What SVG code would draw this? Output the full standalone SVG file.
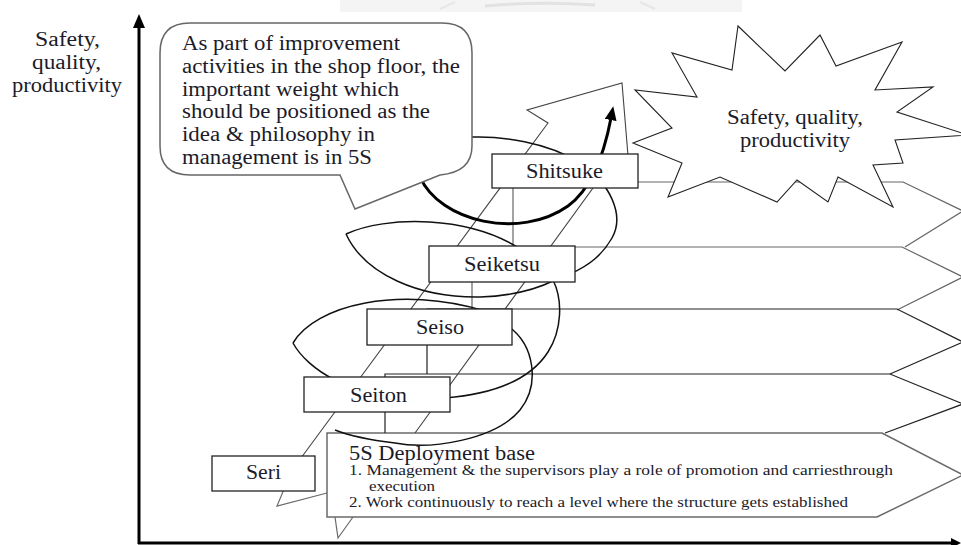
<svg xmlns="http://www.w3.org/2000/svg" width="961" height="545" viewBox="0 0 961 545" font-family="'Liberation Serif', 'Times New Roman', serif">
  <defs>
    <style>
      text { font-family: "Liberation Serif", "Times New Roman", serif; fill: #1b1b2a; }
      .t20 { font-size: 20px; }
      .t15 { font-size: 15px; }
      .box { fill: #ffffff; stroke: #222222; stroke-width: 1.3; }
      .band { fill: none; stroke: #666666; stroke-width: 1.2; }
      .band.dark { stroke: #222222; }
      .shaft { fill: none; stroke: #444444; stroke-width: 1.1; }
      .coil { fill: none; stroke: #111111; stroke-width: 1.5; }
      .axis { stroke: #000000; stroke-width: 3; fill: none; }
    </style>
    <marker id="head" viewBox="0 0 14 12" refX="2" refY="6" markerWidth="14" markerHeight="12" markerUnits="userSpaceOnUse" orient="auto">
      <path d="M0,0 L14,6 L0,12 Z" fill="#000000"/>
    </marker>
  </defs>

  <rect width="961" height="545" fill="#ffffff"/>

  <!-- faint stamp at the top edge -->
  <g id="stamp">
    <rect x="340" y="0" width="402" height="12" fill="#f4f4f4"/>
    <path d="M485,6 Q540,1 595,5" fill="none" stroke="#e2e2e2" stroke-width="3"/>
    <path d="M440,9 L455,2 M640,2 L655,9" fill="none" stroke="#e6e6e6" stroke-width="2"/>
  </g>

  <!-- axes -->
  <g id="axes">
    <line class="axis" x1="139" y1="544" x2="139" y2="26"/>
    <polygon points="139,14 133,28 145,28" fill="#000000"/>
    <line class="axis" x1="138" y1="543" x2="952" y2="543"/>
    <polygon points="961,543 951,538 951,548" fill="#000000"/>
    <text class="t20" x="35" y="46" textLength="65" lengthAdjust="spacingAndGlyphs">Safety,</text>
    <text class="t20" x="32" y="69" textLength="69" lengthAdjust="spacingAndGlyphs">quality,</text>
    <text class="t20" x="12" y="92" textLength="110" lengthAdjust="spacingAndGlyphs">productivity</text>
  </g>

  <!-- 5S deployment base: pentagon callout -->
  <g id="base">
    <path d="M327,433 H882 L963,475 L877,517 H327 Z" fill="#ffffff" stroke="#6a6a6a" stroke-width="1.5"/>
    <polyline points="292,470 277,506 327,493" fill="none" stroke="#6a6a6a" stroke-width="1.2"/>
    <polyline points="335,517 338,538 353,517" fill="none" stroke="#6a6a6a" stroke-width="1.2"/>
    <text class="t20" x="349" y="460" textLength="186" lengthAdjust="spacingAndGlyphs">5S Deployment base</text>
    <text class="t15" x="349" y="475" textLength="544" lengthAdjust="spacingAndGlyphs">1. Management &amp; the supervisors play a role of promotion and carriesthrough</text>
    <text class="t15" x="369" y="491" textLength="66" lengthAdjust="spacingAndGlyphs">execution</text>
    <text class="t15" x="349" y="507" textLength="499" lengthAdjust="spacingAndGlyphs">2. Work continuously to reach a level where the structure gets established</text>
  </g>

  <!-- connectors -->
  <g id="connectors">
    <!-- stacked horizontal level arrows -->
    <path class="band" d="M513,247 V182 H903 L963,211 L905,247"/>
    <path class="band" d="M472,309 V247 H902 L963,277 L897,310"/>
    <path class="band dark" d="M427,374 V309 H897 L963,342 L890,374"/>
    <path class="band dark" d="M385,433 V374 H890 L963,404 L885,433"/>
    <!-- diagonal rising arrow -->
    <path class="shaft" d="M301,458 L548,123 L527,110 L622,83 L630,180 L609,166 L415,433"/>
    <!-- coil loops through the levels -->
    <path class="coil" d="M472,137 C500,136 548,142 580,163 C610,183 625,215 612,238 C602,255 590,265 570,274"/>
    <path class="coil" d="M346,234 C385,216 470,214 525,252"/>
    <path class="coil" d="M346,234 C365,275 420,298 480,297 C510,296 535,290 555,280"/>
    <path class="coil" d="M553,280 C563,300 562,330 548,352 C530,380 495,394 445,398"/>
    <path class="coil" d="M293,343 C315,305 400,285 485,311"/>
    <path class="coil" d="M293,343 C300,356 315,370 335,380"/>
    <path class="coil" d="M508,326 C535,345 540,385 520,410 C495,440 430,450 395,443 C370,440 350,436 335,430"/>
    <!-- bold return arrow -->
    <path d="M420,177 C440,222 520,240 568,206 C590,190 603,160 611,118" fill="none" stroke="#000000" stroke-width="3" marker-end="url(#head)"/>
  </g>

  <!-- result burst -->
  <g id="burst">
    <polygon points="738,26 785,71 820,35 836,66 902,42 875,90 933,87 897,112 968,135 895,140 903,163 873,165 893,207 838,177 828,202 797,180 777,202 720,177 668,197 682,163 633,143 672,128 635,90 697,97 672,53 732,70" fill="#ffffff" stroke="#222222" stroke-width="1.1"/>
    <text class="t20" x="727" y="124" textLength="136" lengthAdjust="spacingAndGlyphs">Safety, quality,</text>
    <text class="t20" x="740" y="147" textLength="110" lengthAdjust="spacingAndGlyphs">productivity</text>
  </g>

  <!-- speech bubble -->
  <g id="note">
    <path d="M190,23 H442 Q472,23 472,53 V146 Q472,172 440,175 L355,209 L340,175 H190 Q160,175 160,146 V53 Q160,23 190,23 Z" fill="#ffffff" stroke="#666666" stroke-width="1.5"/>
    <text class="t20" x="182" y="50" textLength="218" lengthAdjust="spacingAndGlyphs">As part of improvement</text>
    <text class="t20" x="182" y="73" textLength="278" lengthAdjust="spacingAndGlyphs">activities in the shop floor, the</text>
    <text class="t20" x="182" y="96" textLength="217" lengthAdjust="spacingAndGlyphs">important weight which</text>
    <text class="t20" x="182" y="118" textLength="248" lengthAdjust="spacingAndGlyphs">should be positioned as the</text>
    <text class="t20" x="182" y="141" textLength="193" lengthAdjust="spacingAndGlyphs">idea &amp; philosophy in</text>
    <text class="t20" x="182" y="164" textLength="190" lengthAdjust="spacingAndGlyphs">management is in 5S</text>
  </g>

  <!-- level boxes -->
  <g id="shitsuke">
    <rect class="box" x="492" y="154" width="146" height="34"/>
    <text class="t20" x="526" y="178" textLength="77" lengthAdjust="spacingAndGlyphs">Shitsuke</text>
  </g>
  <g id="seiketsu">
    <rect class="box" x="429" y="246" width="146" height="36"/>
    <text class="t20" x="464" y="271" textLength="76" lengthAdjust="spacingAndGlyphs">Seiketsu</text>
  </g>
  <g id="seiso">
    <rect class="box" x="367" y="309" width="145" height="36"/>
    <text class="t20" x="416" y="334" textLength="48" lengthAdjust="spacingAndGlyphs">Seiso</text>
  </g>
  <g id="seiton">
    <rect class="box" x="304" y="377" width="146" height="35"/>
    <text class="t20" x="350" y="402" textLength="57" lengthAdjust="spacingAndGlyphs">Seiton</text>
  </g>
  <g id="seri">
    <rect class="box" x="212" y="456" width="103" height="35"/>
    <text class="t20" x="246" y="479" textLength="35" lengthAdjust="spacingAndGlyphs">Seri</text>
  </g>
</svg>
